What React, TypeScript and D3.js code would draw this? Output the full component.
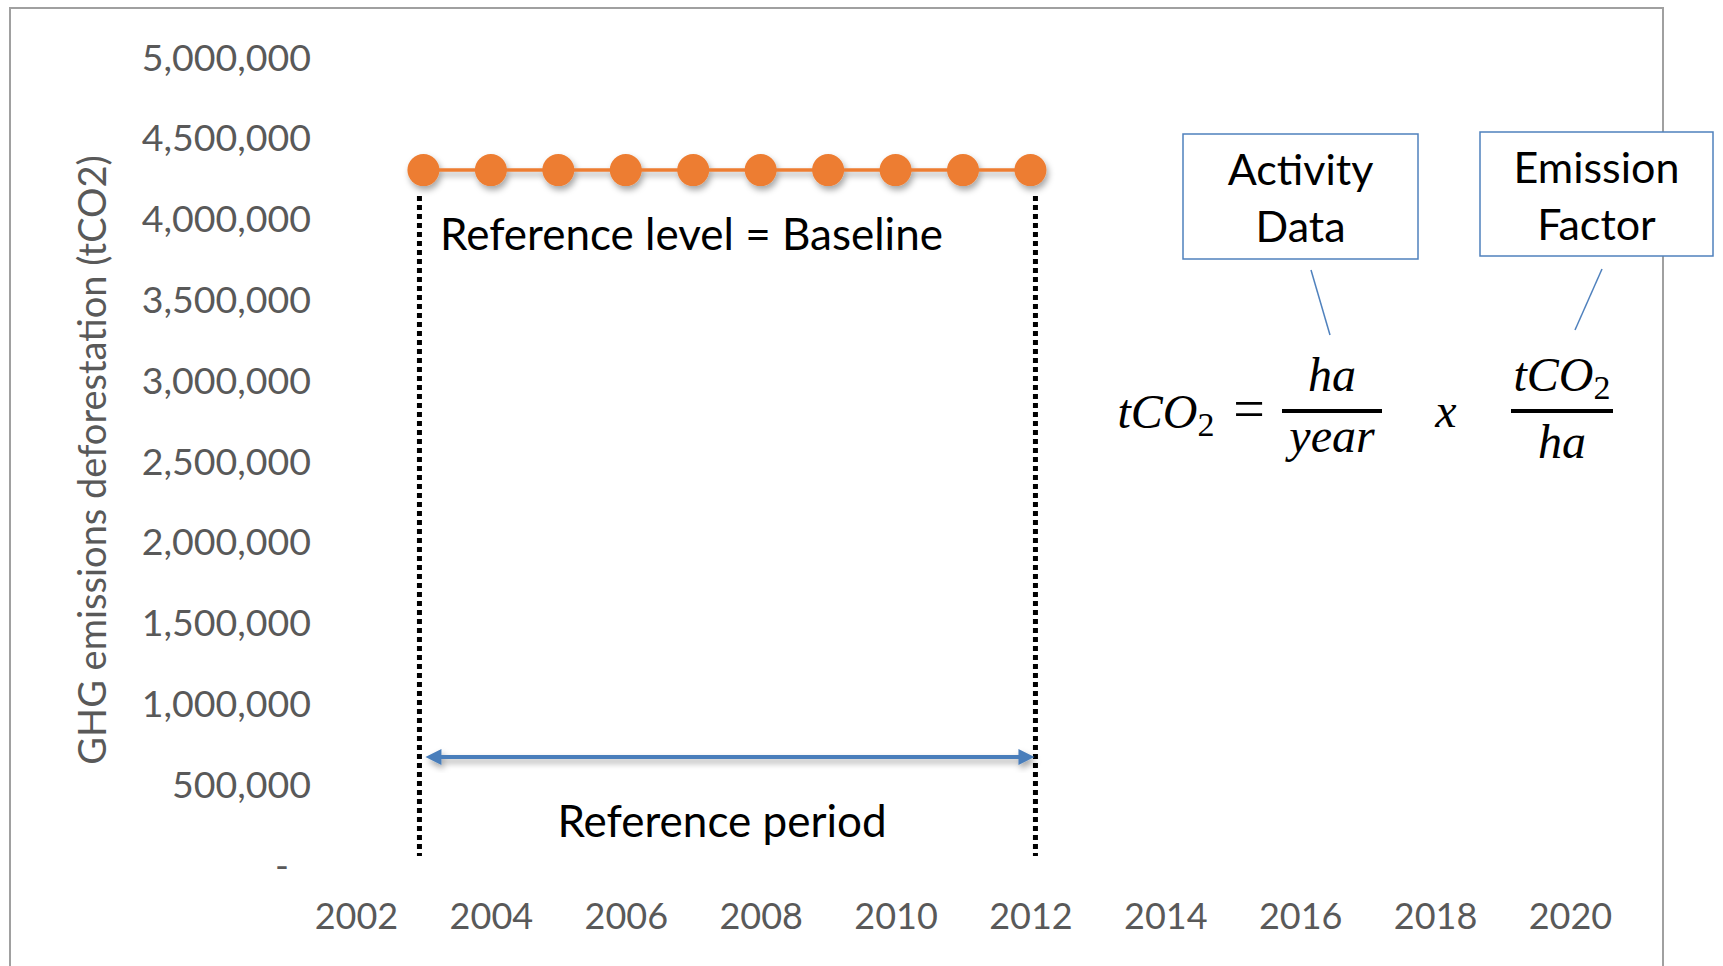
import React, { useEffect, useRef } from 'react'
import * as d3 from 'd3'

const years = [2003, 2004, 2005, 2006, 2007, 2008, 2009, 2010, 2011, 2012]
const baseline = [4300000, 4300000, 4300000, 4300000, 4300000, 4300000, 4300000, 4300000, 4300000, 4300000]
const yTicks = [0, 500000, 1000000, 1500000, 2000000, 2500000, 3000000, 3500000, 4000000, 4500000, 5000000]
const xTicks = [2002, 2004, 2006, 2008, 2010, 2012, 2014, 2016, 2018, 2020]
const periodStart = 2003
const periodEnd = 2012

const W = 1723
const H = 966
const FONT = 'Lato, "Open Sans", sans-serif'
const MATH = '"Liberation Serif", "DejaVu Serif", serif'
const GREY = '#595959'

export default function App () {
  const ref = useRef<SVGSVGElement>(null)

  useEffect(() => {
    const svg = d3.select(ref.current)
    svg.selectAll('*').remove()

    const x = d3.scaleLinear().domain([2002, 2020]).range([356, 1570])
    const y = d3.scaleLinear().domain([0, 5000000]).range([865, 57])

    const defs = svg.append('defs')
    const f = defs.append('filter').attr('id', 'shadow')
      .attr('x', '-50%').attr('y', '-50%').attr('width', '200%').attr('height', '200%')
    f.append('feDropShadow')
      .attr('dx', 2).attr('dy', 4).attr('stdDeviation', 3)
      .attr('flood-color', '#000').attr('flood-opacity', 0.35)

    // frame
    svg.append('rect')
      .attr('x', 10).attr('y', 8).attr('width', 1653).attr('height', 970)
      .attr('fill', 'white').attr('stroke', '#a0a0a0').attr('stroke-width', 2)

    // y axis labels
    const fmt = d3.format(',')
    const yAxis = svg.append('g').attr('transform', 'translate(311,0)')
      .call(d3.axisLeft(y).tickValues(yTicks).tickSize(0).tickPadding(0)
        .tickFormat((d) => (+d === 0 ? '-' : fmt(+d))))
    yAxis.select('.domain').remove()
    yAxis.selectAll('text')
      .attr('font-family', FONT).attr('font-size', 37.5).attr('fill', GREY)
      .attr('dy', '0.35em')
      .attr('dx', (d) => (+d === 0 ? -22 : 0))

    // x axis labels
    const xAxis = svg.append('g').attr('transform', 'translate(0,904)')
      .call(d3.axisBottom(x).tickValues(xTicks).tickSize(0).tickPadding(0)
        .tickFormat(d3.format('d')))
    xAxis.select('.domain').remove()
    xAxis.selectAll('text')
      .attr('font-family', FONT).attr('font-size', 36).attr('fill', GREY)
      .attr('dy', '0.7em')

    // y axis title
    svg.append('text')
      .attr('transform', 'translate(93,460) rotate(-90)')
      .attr('text-anchor', 'middle').attr('dy', '0.35em')
      .attr('font-family', FONT).attr('font-size', 38).attr('fill', GREY)
      .text('GHG emissions deforestation (tCO2)')

    // reference period dotted lines
    ;[periodStart, periodEnd].forEach((yr, i) => {
      svg.append('line')
        .attr('x1', x(yr) + (i === 0 ? -4 : 5)).attr('x2', x(yr) + (i === 0 ? -4 : 5))
        .attr('y1', 196).attr('y2', 856)
        .attr('stroke', '#000').attr('stroke-width', 5).attr('stroke-dasharray', '5 4')
    })

    // arrow
    const ay = 757
    const ax1 = x(periodStart) + 2
    const ax2 = x(periodEnd) + 4
    const arrow = svg.append('g').attr('filter', 'url(#shadow)')
    arrow.append('line')
      .attr('x1', ax1 + 10).attr('x2', ax2 - 10).attr('y1', ay).attr('y2', ay)
      .attr('stroke', '#4a7ebb').attr('stroke-width', 4)
    arrow.append('path')
      .attr('d', `M${ax1},${ay} l16,-8 l0,16 Z M${ax2},${ay} l-16,-8 l0,16 Z`)
      .attr('fill', '#4a7ebb')

    // baseline series
    const line = d3.line<number>()
      .x((d, i) => x(years[i]))
      .y((d) => y(d))
    const series = svg.append('g').attr('filter', 'url(#shadow)')
    series.append('path')
      .datum(baseline)
      .attr('d', line)
      .attr('fill', 'none').attr('stroke', '#ED7D31').attr('stroke-width', 3.5)
    series.selectAll('circle')
      .data(baseline)
      .enter().append('circle')
      .attr('cx', (d, i) => x(years[i]))
      .attr('cy', (d) => y(d))
      .attr('r', 16)
      .attr('fill', '#ED7D31')

    // annotations
    svg.append('text')
      .attr('x', 440).attr('y', 235).attr('dy', '0.35em')
      .attr('font-family', FONT).attr('font-size', 44).attr('fill', '#000')
      .text('Reference level = Baseline')
    svg.append('text')
      .attr('x', 722).attr('y', 822).attr('dy', '0.35em').attr('text-anchor', 'middle')
      .attr('font-family', FONT).attr('font-size', 44).attr('fill', '#000')
      .text('Reference period')

    // callout boxes
    const boxes = [
      { x: 1183, y: 134, w: 235, h: 125, lines: ['Activity', 'Data'], l: [1311, 270, 1330, 335] },
      { x: 1480, y: 132, w: 233, h: 124, lines: ['Emission', 'Factor'], l: [1602, 269, 1575, 330] }
    ]
    boxes.forEach((b) => {
      svg.append('rect')
        .attr('x', b.x).attr('y', b.y).attr('width', b.w).attr('height', b.h)
        .attr('fill', 'white').attr('stroke', '#4f81bd').attr('stroke-width', 1.5)
      b.lines.forEach((t, i) => {
        svg.append('text')
          .attr('x', b.x + b.w / 2).attr('y', b.y + 36 + i * 57).attr('dy', '0.35em')
          .attr('text-anchor', 'middle')
          .attr('font-family', FONT).attr('font-size', 43).attr('fill', '#000')
          .text(t)
      })
      svg.append('line')
        .attr('x1', b.l[0]).attr('y1', b.l[1]).attr('x2', b.l[2]).attr('y2', b.l[3])
        .attr('stroke', '#4f81bd').attr('stroke-width', 1.5)
    })

    // equation
    const eq = svg.append('g')
      .attr('font-family', MATH).attr('font-size', 48).attr('font-style', 'italic').attr('fill', '#000')
    const co2 = (g: any, cx: number, cy: number) => {
      const t = g.append('text').attr('x', cx).attr('y', cy).attr('text-anchor', 'middle')
      t.append('tspan').text('tCO')
      t.append('tspan').attr('font-style', 'normal').attr('font-size', 34).attr('dy', 8).text('2')
    }
    co2(eq, 1166, 428)
    eq.append('text').attr('x', 1249).attr('y', 428).attr('text-anchor', 'middle')
      .attr('font-style', 'normal').attr('font-size', 56).text('=')
    eq.append('line').attr('x1', 1282).attr('x2', 1382).attr('y1', 411).attr('y2', 411)
      .attr('stroke', '#000').attr('stroke-width', 4)
    eq.append('text').attr('x', 1332).attr('y', 391).attr('text-anchor', 'middle').text('ha')
    eq.append('text').attr('x', 1332).attr('y', 452).attr('text-anchor', 'middle').text('year')
    eq.append('text').attr('x', 1446).attr('y', 427).attr('text-anchor', 'middle').text('x')
    eq.append('line').attr('x1', 1511).attr('x2', 1613).attr('y1', 411).attr('y2', 411)
      .attr('stroke', '#000').attr('stroke-width', 4)
    co2(eq, 1562, 391)
    eq.append('text').attr('x', 1562).attr('y', 458).attr('text-anchor', 'middle').text('ha')
  }, [])

  return (
    <svg ref={ref} width={W} height={H} style={{ position: 'absolute', left: 0, top: 0, background: 'white' }} />
  )
}
